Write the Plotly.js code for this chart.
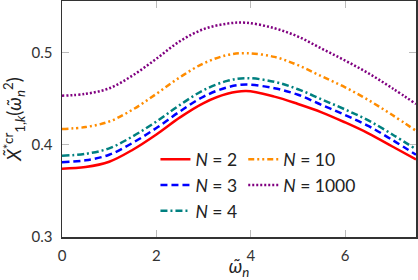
<!DOCTYPE html>
<html>
<head>
<meta charset="utf-8">
<script src="https://cdn.plot.ly/plotly-3.0.1.min.js"></script>
<style>
  html, body { margin: 0; padding: 0; background: #fff; }
  #chart { width: 418px; height: 280px; }
</style>
</head>
<body>
<div id="chart"></div>
<script>
// Normalised frequency grid
const omega = [0, 0.5, 1, 1.5, 2, 2.5, 3, 3.5, 3.9, 4.5, 5, 5.5, 6, 6.5, 7, 7.5];

// Critical ratio for each number of units N
const xN2    = [0.374, 0.3758, 0.3815, 0.3945, 0.411, 0.4295, 0.445, 0.455, 0.458, 0.452, 0.444, 0.435, 0.424, 0.412, 0.398, 0.384];
const xN3    = [0.381, 0.383, 0.389, 0.402, 0.418, 0.436, 0.452, 0.462, 0.465, 0.461, 0.454, 0.443, 0.432, 0.420, 0.405, 0.389];
const xN4    = [0.388, 0.390, 0.396, 0.409, 0.425, 0.443, 0.459, 0.469, 0.472, 0.468, 0.460, 0.449, 0.438, 0.426, 0.411, 0.395];
const xN10   = [0.417, 0.419, 0.425, 0.438, 0.455, 0.473, 0.488, 0.497, 0.499, 0.495, 0.486, 0.474, 0.462, 0.448, 0.432, 0.415];
const xN1000 = [0.453, 0.455, 0.461, 0.475, 0.493, 0.512, 0.525, 0.531, 0.532, 0.526, 0.517, 0.504, 0.491, 0.477, 0.461, 0.444];

const names = ['<i>N</i> = 2', '<i>N</i> = 3', '<i>N</i> = 4', '<i>N</i> = 10', '<i>N</i> = 1000'];
const yTicks = [0.3, 0.4, 0.5];
const xTicks = [0, 2, 4, 6];

function series(y, name, color, dash, legend) {
  return {
    x: omega, y: y, name: name, type: 'scatter', mode: 'lines',
    line: { color: color, width: 2.5, dash: dash, shape: 'spline', smoothing: 1 },
    legend: legend
  };
}

const traces = [
  series(xN2, names[0], '#ff0000', 'solid', 'legend'),
  series(xN3, names[1], '#0000ff', '7px,4px', 'legend'),
  series(xN4, names[2], '#008080', '7px,3px,2px,3px', 'legend'),
  series(xN10, names[3], '#ff8c00', '6px,3px,2px,3px,2px,3px', 'legend2'),
  series(xN1000, names[4], '#800080', '2px,2px', 'legend2')
];

const FONT = 'Lato, "Open Sans", sans-serif';
const axisCommon = {
  showgrid: false, zeroline: false,
  showline: true, linecolor: '#333', linewidth: 1.5, mirror: 'ticks',
  ticks: 'inside', ticklen: 7, tickcolor: '#bbb', tickwidth: 1,
  tickfont: { family: FONT, size: 15, color: '#333' }
};

const legendCommon = {
  orientation: 'v', bgcolor: 'rgba(0,0,0,0)', borderwidth: 0,
  font: { family: FONT, size: 17.5, color: '#222' },
  xanchor: 'left', yanchor: 'top', itemwidth: 30
};

const layout = {
  width: 418, height: 280,
  margin: { l: 62, r: 2, t: 1, b: 43 },
  paper_bgcolor: '#fff', plot_bgcolor: '#fff',
  showlegend: true,
  xaxis: Object.assign({}, axisCommon, {
    range: [0, 7.5], tickvals: xTicks, ticktext: xTicks.map(String),
    ticklabelstandoff: 4,
    title: { text: '<i>ω̃</i><sub><i>n</i></sub>', font: { family: FONT, size: 19, color: '#222' }, standoff: 6 }
  }),
  yaxis: Object.assign({}, axisCommon, {
    range: [0.3, 0.5555], tickvals: yTicks, ticktext: yTicks.map(v => v.toFixed(1)),
    ticklabelstandoff: 5,
    title: { text: '<i>X̃</i><sup>*cr</sup><sub>1,<i>k</i></sub>(<i>ω̃</i><sub><i>n</i></sub><sup>2</sup>)', font: { family: FONT, size: 19, color: '#222' }, standoff: 6 }
  }),
  legend: Object.assign({}, legendCommon, { x: 0.264, y: 0.405 }),
  legend2: Object.assign({}, legendCommon, { x: 0.512, y: 0.405 })
};

Plotly.newPlot('chart', traces, layout, { displayModeBar: false, staticPlot: true });
</script>
</body>
</html>
